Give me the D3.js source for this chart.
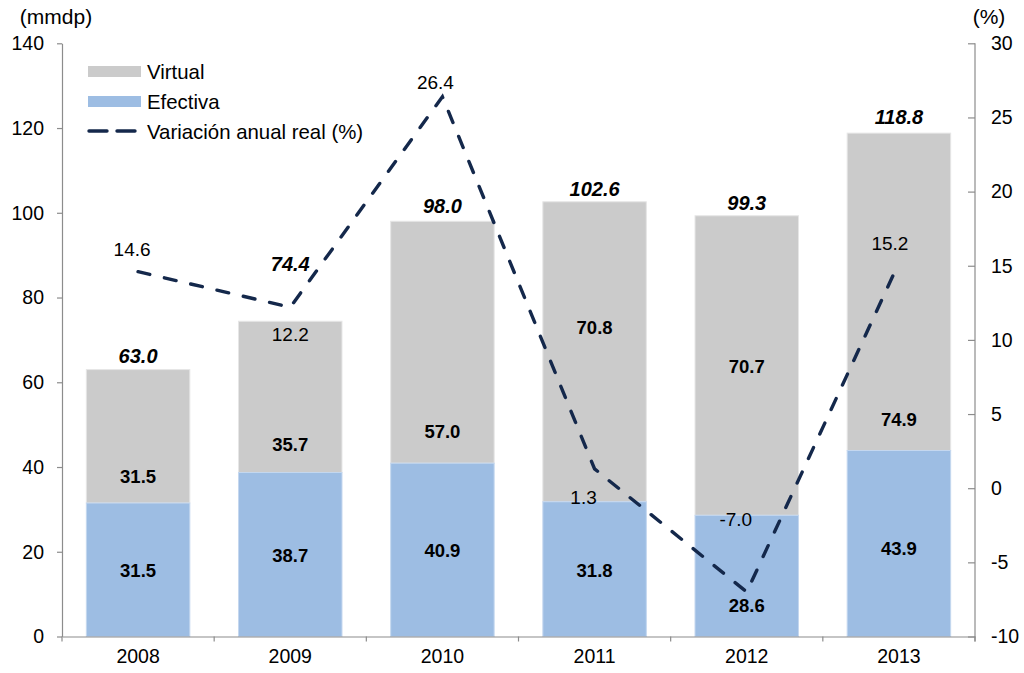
<!DOCTYPE html>
<html>
<head>
<meta charset="utf-8">
<script src="https://cdn.jsdelivr.net/npm/d3@7"></script>
<style>
  body { margin: 0; background: #fff; }
  svg { font-family: "Liberation Sans", Arial, sans-serif; }
</style>
</head>
<body>
<svg id="chart" width="1024" height="673"></svg>
<script>
'use strict';

// data
const years = ['2008', '2009', '2010', '2011', '2012', '2013'];
const efectiva = [31.5, 38.7, 40.9, 31.8, 28.6, 43.9];
const virtual = [31.5, 35.7, 57.0, 70.8, 70.7, 74.9];
const totals = [63.0, 74.4, 98.0, 102.6, 99.3, 118.8];
const variacion = [14.6, 12.2, 26.4, 1.3, -7.0, 15.2];

const leftTicks = [0, 20, 40, 60, 80, 100, 120, 140];
const rightTicks = [-10, -5, 0, 5, 10, 15, 20, 25, 30];

// where the labels sit (in axis units), as placed in the original
const efectivaLabelAt = [15.5, 19.0, 20.3, 15.5, 7.4, 20.7];
const virtualLabelAt = [37.7, 45.4, 48.3, 72.9, 63.6, 51.3];
const totalLabelAt = [66.2, 87.8, 101.6, 105.7, 102.4, 122.5];
const lineLabelAt = [16.1, 10.4, 27.4, -0.6, -2.1, 16.5];
const lineLabelDx = [-6, 0, -7, -11, -11, -9];

const margin = { top: 43.3, right: 49, bottom: 36.5, left: 62 };
const width = 1024, height = 673;
const svg = d3.select('#chart');

const x = d3.scaleBand()
  .domain(years)
  .range([margin.left, width - margin.right])
  .paddingInner(0.32)
  .paddingOuter(0.16);

const yL = d3.scaleLinear().domain([0, 140]).range([height - margin.bottom, margin.top]);
const yR = d3.scaleLinear().domain([-10, 30]).range([height - margin.bottom, margin.top]);

const axisColor = '#8c8c8c';
const gray = '#cbcbcb';
const blue = '#9dbde3';
const navy = '#14284b';

// bars
const rows = years.map((yr, i) => ({ yr, e: efectiva[i], v: virtual[i], t: totals[i], i }));

svg.append('g').selectAll('rect.v')
  .data(rows)
  .enter()
  .append('rect')
  .attr('x', d => x(d.yr))
  .attr('width', x.bandwidth())
  .attr('y', d => yL(d.t))
  .attr('height', d => yL(d.e) - yL(d.t))
  .attr('fill', gray)
  .attr('stroke', '#e6e6e6')
  .attr('stroke-width', 1);

svg.append('g').selectAll('rect.e')
  .data(rows)
  .enter()
  .append('rect')
  .attr('x', d => x(d.yr))
  .attr('width', x.bandwidth())
  .attr('y', d => yL(d.e))
  .attr('height', d => yL(0) - yL(d.e))
  .attr('fill', blue)
  .attr('stroke', '#c4d7ef')
  .attr('stroke-width', 1);

// axes
const gLeft = svg.append('g')
  .attr('transform', `translate(${margin.left},0)`)
  .call(d3.axisLeft(yL).tickValues(leftTicks).tickSizeInner(5).tickSizeOuter(0).tickPadding(13));

const gRight = svg.append('g')
  .attr('transform', `translate(${width - margin.right},0)`)
  .call(d3.axisRight(yR).tickValues(rightTicks).tickSizeInner(-7).tickSizeOuter(0)
    .tickPadding(16).tickFormat(d => String(d)));

const gBottom = svg.append('g')
  .attr('transform', `translate(0,${yL(0)})`)
  .call(d3.axisBottom(x).tickSize(0).tickPadding(13));

// x ticks between categories
const bounds = years.map(yr => x(yr) - x.step() * x.paddingInner() / 2);
bounds[0] = margin.left;
bounds.push(width - margin.right);
gBottom.selectAll('line.sep')
  .data(bounds)
  .enter()
  .append('line')
  .attr('class', 'sep')
  .attr('x1', d => d).attr('x2', d => d)
  .attr('y1', 0).attr('y2', 5);

[gLeft, gRight, gBottom].forEach(g => {
  g.select('.domain').attr('stroke', axisColor).attr('stroke-width', 1.2);
  g.selectAll('line').attr('stroke', axisColor).attr('stroke-width', 1.2);
  g.selectAll('text').attr('fill', '#000').style('font-size', '19.5px');
});
gRight.select('.domain').attr('d', `M0,${margin.top}V${yL(0) + 5}`);

svg.append('text').attr('x', 56).attr('y', 24).attr('text-anchor', 'middle')
  .style('font-size', '21px').text('(mmdp)');
svg.append('text').attr('x', 989).attr('y', 24).attr('text-anchor', 'middle')
  .style('font-size', '21px').text('(%)');

// dashed line
const line = d3.line()
  .x((d, i) => x(years[i]) + x.bandwidth() / 2)
  .y(d => yR(d));

svg.append('path')
  .datum(variacion)
  .attr('d', line)
  .attr('fill', 'none')
  .attr('stroke', navy)
  .attr('stroke-width', 3.4)
  .attr('stroke-dasharray', '12,15')
  .attr('stroke-linecap', 'round');

// labels
const labels = svg.append('g').attr('text-anchor', 'middle');

labels.selectAll('text.e')
  .data(rows).enter().append('text')
  .attr('x', d => x(d.yr) + x.bandwidth() / 2)
  .attr('y', d => yL(efectivaLabelAt[d.i]))
  .attr('dy', '0.35em')
  .style('font-size', '18.5px').style('font-weight', 'bold')
  .text(d => d.e.toFixed(1));

labels.selectAll('text.v')
  .data(rows).enter().append('text')
  .attr('x', d => x(d.yr) + x.bandwidth() / 2)
  .attr('y', d => yL(virtualLabelAt[d.i]))
  .attr('dy', '0.35em')
  .style('font-size', '18.5px').style('font-weight', 'bold')
  .text(d => d.v.toFixed(1));

labels.selectAll('text.t')
  .data(rows).enter().append('text')
  .attr('x', d => x(d.yr) + x.bandwidth() / 2)
  .attr('y', d => yL(totalLabelAt[d.i]))
  .attr('dy', '0.35em')
  .style('font-size', '20px').style('font-weight', 'bold').style('font-style', 'italic')
  .text(d => d.t.toFixed(1));

labels.selectAll('text.l')
  .data(variacion).enter().append('text')
  .attr('x', (d, i) => x(years[i]) + x.bandwidth() / 2 + lineLabelDx[i])
  .attr('y', (d, i) => yR(lineLabelAt[i]))
  .attr('dy', '0.35em')
  .style('font-size', '19px')
  .text(d => d.toFixed(1));

// legend
const legend = svg.append('g').style('font-size', '20.4px');
legend.append('rect').attr('x', 88).attr('y', 66).attr('width', 53).attr('height', 11).attr('fill', gray);
legend.append('text').attr('x', 147).attr('y', 72).attr('dy', '0.35em').text('Virtual');
legend.append('rect').attr('x', 88).attr('y', 96).attr('width', 53).attr('height', 11).attr('fill', blue);
legend.append('text').attr('x', 147).attr('y', 102).attr('dy', '0.35em').text('Efectiva');
legend.append('line').attr('x1', 89).attr('x2', 136).attr('y1', 131).attr('y2', 131)
  .attr('stroke', navy).attr('stroke-width', 3.4).attr('stroke-dasharray', '18,10')
  .attr('stroke-linecap', 'round');
legend.append('text').attr('x', 147).attr('y', 132).attr('dy', '0.35em').text('Variación anual real (%)');
</script>
</body>
</html>
